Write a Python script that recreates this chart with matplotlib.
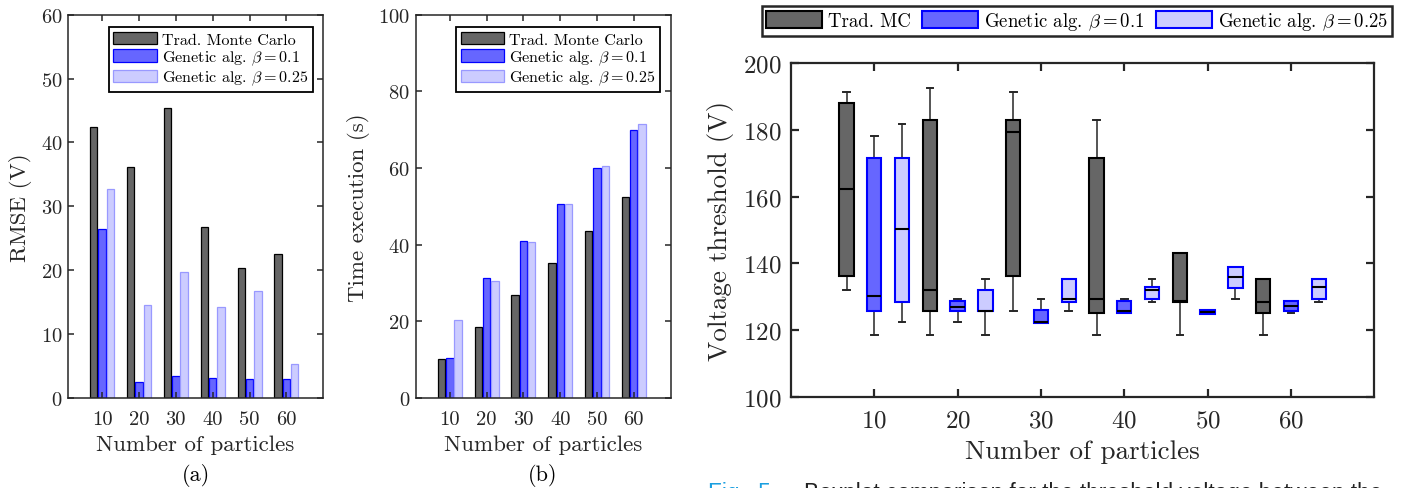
import numpy as np
import matplotlib
matplotlib.use("Agg")
import matplotlib.pyplot as plt
from matplotlib.patches import Patch

# LaTeX-looking text everywhere (Computer Modern shipped with matplotlib)
plt.rcParams['font.family'] = 'cmr10'
plt.rcParams['mathtext.fontset'] = 'cm'
plt.rcParams['axes.unicode_minus'] = False
plt.rcParams['axes.formatter.use_mathtext'] = True

# ---- data ----
particles = [10, 20, 30, 40, 50, 60]

# RMSE (V)
rmse_mc = [42.4, 36.2, 45.4, 26.7, 20.3, 22.6]
rmse_ga01 = [26.4, 2.45, 3.5, 3.2, 2.9, 2.9]
rmse_ga025 = [32.7, 14.5, 19.7, 14.3, 16.7, 5.3]

# execution time (s)
time_mc = [10.3, 18.6, 26.8, 35.3, 43.5, 52.5]
time_ga01 = [10.5, 31.4, 40.9, 50.5, 60.1, 70.0]
time_ga025 = [20.4, 30.6, 40.8, 50.7, 60.4, 71.6]

# voltage threshold boxplots: (whisker low, q1, median, q3, whisker high)
vth_mc = [(132.0, 136.2, 162.2, 188.0, 191.5),
          (118.5, 125.8, 131.9, 183.1, 192.7),
          (125.8, 136.2, 179.3, 183.1, 191.5),
          (118.5, 125.0, 129.3, 171.7, 183.1),
          (118.5, 128.4, 128.6, 143.1, 143.1),
          (118.5, 125.0, 128.5, 135.3, 135.3)]
vth_ga01 = [(118.5, 125.8, 130.3, 171.6, 178.2),
            (122.3, 125.8, 126.8, 128.6, 129.3),
            (122.2, 122.2, 122.3, 126.0, 129.3),
            (125.0, 125.0, 125.8, 128.6, 129.3),
            (124.8, 124.8, 125.4, 126.0, 126.0),
            (125.0, 125.8, 127.2, 128.6, 128.6)]
vth_ga025 = [(122.3, 128.4, 150.2, 171.6, 181.8),
             (118.5, 125.8, 125.8, 132.0, 135.3),
             (125.8, 128.5, 129.4, 135.3, 135.3),
             (128.5, 129.3, 132.0, 132.8, 135.3),
             (129.3, 132.6, 135.8, 138.8, 138.8),
             (128.5, 129.3, 132.8, 135.3, 135.3)]

labels_long = ['Trad. Monte Carlo', r'Genetic alg. $\beta = 0.1$', r'Genetic alg. $\beta = 0.25$']
labels_short = ['Trad. MC', r'Genetic alg. $\beta = 0.1$', r'Genetic alg. $\beta = 0.25$']

face = ['#666666', '#6666ff', '#ccccff']
bar_edge = ['#000000', '#0000ff', '#9999ff']
box_edge = ['#000000', '#0000ff', '#0000ff']
axcol = '#262626'

W, H = 1403, 489
fig = plt.figure(figsize=(W / 100, H / 100), dpi=100)


def px_axes(l, t, r, b):
    return fig.add_axes([l / W, 1 - b / H, (r - l) / W, (b - t) / H])


def style_axes(ax, lw, ticksize, ticklen, xpad, ypad):
    for s in ax.spines.values():
        s.set_linewidth(lw)
        s.set_color(axcol)
    ax.tick_params(direction='in', top=True, right=True, length=ticklen,
                   width=lw, color=axcol, labelcolor=axcol, labelsize=ticksize)
    ax.tick_params(axis='x', pad=xpad)
    ax.tick_params(axis='y', pad=ypad)


def bar_panel(ax, series, ylim, yticks, ylabel, tag):
    idx = np.arange(1, len(particles) + 1)
    offsets = [-0.225, 0.0, 0.225]
    for off, vals, fc, ec, lab in zip(offsets, series, face, bar_edge, labels_long):
        ax.bar(idx + off, vals, 0.2, color=fc, edgecolor=ec, linewidth=0.9, label=lab)
    ax.set_xlim(0.07, 7.0)
    ax.set_ylim(*ylim)
    ax.set_yticks(yticks)
    ax.set_xticks(idx)
    ax.set_xticklabels([str(p) for p in particles])
    style_axes(ax, 1.1, 14.8, 4, 8.5, 4)
    ax.set_xlabel('Number of particles', fontsize=16.5, color=axcol, labelpad=5)
    ax.set_ylabel(ylabel, fontsize=16.5, color=axcol, labelpad=6)
    leg = ax.legend(loc='upper right', bbox_to_anchor=(0.958, 0.967), borderaxespad=0,
                    fontsize=11.6, fancybox=False, framealpha=1, edgecolor='k',
                    handlelength=2.7, handleheight=0.8, handletextpad=0.3,
                    labelspacing=0.12, borderpad=0.28)
    leg.get_frame().set_linewidth(1.3)
    ax.text(0.5, -0.2, tag, transform=ax.transAxes, ha='center', va='center',
            fontsize=16, color='k')


ax_a = px_axes(67.8, 15.7, 323.3, 399)
bar_panel(ax_a, [rmse_mc, rmse_ga01, rmse_ga025], (0, 60), range(0, 61, 10), 'RMSE (V)', '(a)')

ax_b = px_axes(415.7, 15.7, 670.5, 399)
bar_panel(ax_b, [time_mc, time_ga01, time_ga025], (0, 100), range(0, 101, 20),
          'Time execution (s)', '(b)')

# ---- boxplot panel ----
ax_c = px_axes(791, 64.3, 1374.3, 397.7)
for k, (data, fc, ec) in enumerate(zip([vth_mc, vth_ga01, vth_ga025], face, box_edge)):
    stats = [dict(whislo=w0, q1=q1, med=md, q3=q3, whishi=w1, fliers=[])
             for (w0, q1, md, q3, w1) in data]
    pos = [p + (k - 1) * 10 / 3 for p in particles]
    bp = ax_c.bxp(stats, positions=pos, widths=1.72, capwidths=0.8, patch_artist=True,
                  showfliers=False, manage_ticks=False,
                  boxprops=dict(facecolor=fc, edgecolor=ec, linewidth=1.5),
                  medianprops=dict(color='k', linewidth=1.5),
                  whiskerprops=dict(color=axcol, linewidth=1.1),
                  capprops=dict(color=axcol, linewidth=1.4))
    for b in bp['boxes']:
        b.set_zorder(3)
    for m in bp['medians']:
        m.set_zorder(4)
ax_c.set_xlim(0, 70)
ax_c.set_ylim(100, 200)
ax_c.set_xticks(particles)
ax_c.set_yticks(range(100, 201, 20))
style_axes(ax_c, 1.6, 18, 6, 9, 7)
ax_c.set_xlabel('Number of particles', fontsize=19.5, color=axcol, labelpad=6)
ax_c.set_ylabel('Voltage threshold (V)', fontsize=19.5, color=axcol, labelpad=6)

handles = [Patch(facecolor=fc, edgecolor=ec, linewidth=1.5) for fc, ec in zip(face, box_edge)]
leg = fig.legend(handles, labels_short, ncol=3, loc='upper left',
                 bbox_to_anchor=(762 / W, 1 - 7 / H), borderaxespad=0,
                 fontsize=13.5, fancybox=False, framealpha=1, edgecolor=axcol,
                 handlelength=3.0, handleheight=1.0, handletextpad=0.3,
                 columnspacing=0.6, borderpad=0.22)
leg.get_frame().set_linewidth(1.8)

# caption line running off the bottom edge
fig.text(708 / W, -0.0217, 'Fig.  5.', fontsize=16.3, color='#1a9fe0',
         family='Liberation Sans', va='baseline', ha='left')
fig.text(804 / W, -0.0217, 'Boxplot comparison for the threshold voltage between the',
         fontsize=16.3, color='#222222', family='Liberation Sans', va='baseline', ha='left')

fig.savefig('out.png', dpi=100)
